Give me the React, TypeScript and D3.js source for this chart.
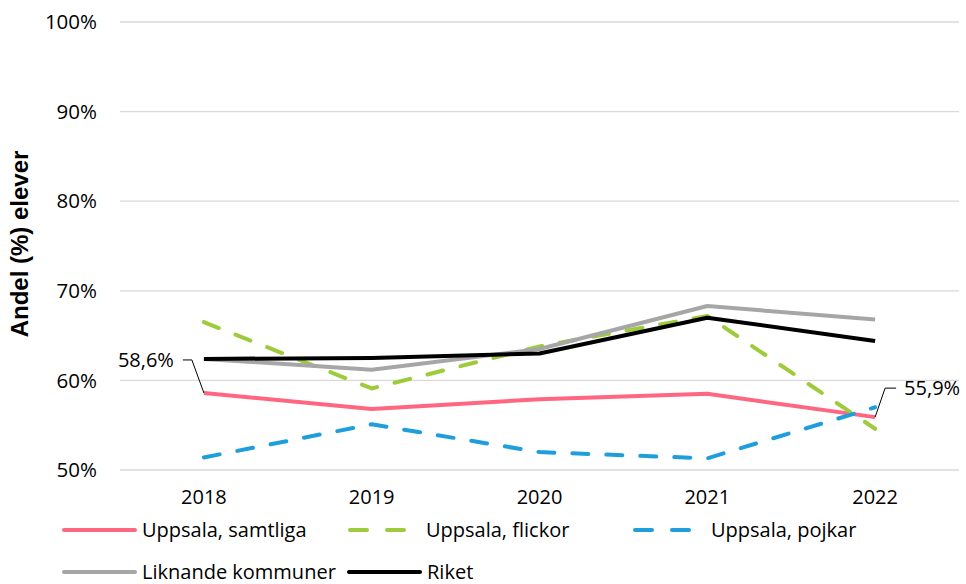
import React from 'react';
import * as d3 from 'd3';

const years = ['2018', '2019', '2020', '2021', '2022'];
const yTicks = [0.5, 0.6, 0.7, 0.8, 0.9, 1.0];

const samtliga = [58.6, 56.8, 57.9, 58.5, 55.9];
const flickor = [66.5, 59.1, 63.8, 67.2, 54.6];
const pojkar = [51.4, 55.1, 52.0, 51.3, 57.0];
const liknande = [62.4, 61.2, 63.5, 68.3, 66.8];
const riket = [62.4, 62.5, 63.0, 67.0, 64.4];

const FONT = '"Open Sans", Lato, sans-serif';

const series = [
  { name: 'Uppsala, samtliga', values: samtliga, color: '#FF6680', dash: null },
  { name: 'Uppsala, flickor', values: flickor, color: '#9DCB3B', dash: '16 18' },
  { name: 'Uppsala, pojkar', values: pojkar, color: '#1E9FDB', dash: '16 18' },
  { name: 'Liknande kommuner', values: liknande, color: '#A6A6A6', dash: null },
  { name: 'Riket', values: riket, color: '#000000', dash: null },
];

const W = 966;
const H = 584;
const left = 120;
const right = 959;
const top = 22;
const bottom = 470;

export default function App() {
  const x = d3.scaleBand().domain(years).range([left, right]);
  const y = d3.scaleLinear().domain([0.5, 1.0]).range([bottom, top]);
  const cx = (yr: string) => (x(yr) as number) + x.bandwidth() / 2;
  const line = d3
    .line<number>()
    .x((_, i) => cx(years[i]))
    .y((v) => y(v / 100));

  const fmt = (v: number) => v.toFixed(1).replace('.', ',') + '%';

  // data label anchors
  const a0 = { x: cx(years[0]), y: y(samtliga[0] / 100) };
  const a4 = { x: cx(years[4]), y: y(samtliga[4] / 100) };

  const rows = [
    { y: 530, items: series.slice(0, 3), xs: [64, 348, 633] },
    { y: 572, items: series.slice(3), xs: [64, 349] },
  ];

  return (
    <svg width={W} height={H} style={{ position: 'absolute', left: 0, top: 0, background: '#fff' }} fontFamily={FONT}>
      {yTicks.map((t) => (
        <g key={t}>
          <line x1={left} x2={right} y1={y(t)} y2={y(t)} stroke="#D9D9D9" strokeWidth={1.3} />
          <text x={97} y={y(t)} dy="0.35em" textAnchor="end" fontSize={20.5} fill="#000">
            {Math.round(t * 100)}%
          </text>
        </g>
      ))}
      {years.map((yr) => (
        <text key={yr} x={cx(yr)} y={497} dy="0.35em" textAnchor="middle" fontSize={20} fill="#000">
          {yr}
        </text>
      ))}
      <text
        transform={`translate(20,${244}) rotate(-90)`}
        textAnchor="middle"
        dy="0.35em"
        fontSize={24}
        fontWeight="bold"
        fontFamily='"Liberation Sans", Arial, sans-serif'
        fill="#000"
      >
        Andel (%) elever
      </text>

      {series.map((s) => (
        <path
          key={s.name}
          d={line(s.values) || ''}
          fill="none"
          stroke={s.color}
          strokeWidth={4}
          strokeDasharray={s.dash || undefined}
          strokeLinecap={s.dash ? 'round' : 'butt'}
          strokeLinejoin="round"
        />
      ))}

      {/* data labels */}
      <path d={`M${a0.x - 21},${a0.y - 33} H${a0.x - 12} L${a0.x},${a0.y}`} fill="none" stroke="#000" strokeWidth={1} />
      <text x={a0.x - 30} y={a0.y - 33} dy="0.35em" textAnchor="end" fontSize={20} fill="#000">
        {fmt(samtliga[0])}
      </text>
      <path d={`M${a4.x + 21},${a4.y - 29} H${a4.x + 10} L${a4.x},${a4.y}`} fill="none" stroke="#000" strokeWidth={1} />
      <text x={a4.x + 29} y={a4.y - 29} dy="0.35em" textAnchor="start" fontSize={20} fill="#000">
        {fmt(samtliga[4])}
      </text>

      {/* legend */}
      {rows.map((r) =>
        r.items.map((s, i) => {
          const x0 = r.xs[i];
          return (
            <g key={s.name}>
              {s.dash ? (
                <g stroke={s.color} strokeWidth={4} strokeLinecap="round">
                  <line x1={x0 + 2} x2={x0 + 19} y1={r.y} y2={r.y} />
                  <line x1={x0 + 39} x2={x0 + 56} y1={r.y} y2={r.y} />
                </g>
              ) : (
                <line x1={x0} x2={x0 + 71} y1={r.y} y2={r.y} stroke={s.color} strokeWidth={4} strokeLinecap="round" />
              )}
              <text x={x0 + 78} y={r.y} dy="0.35em" fontSize={20} fill="#000">
                {s.name}
              </text>
            </g>
          );
        })
      )}
    </svg>
  );
}
